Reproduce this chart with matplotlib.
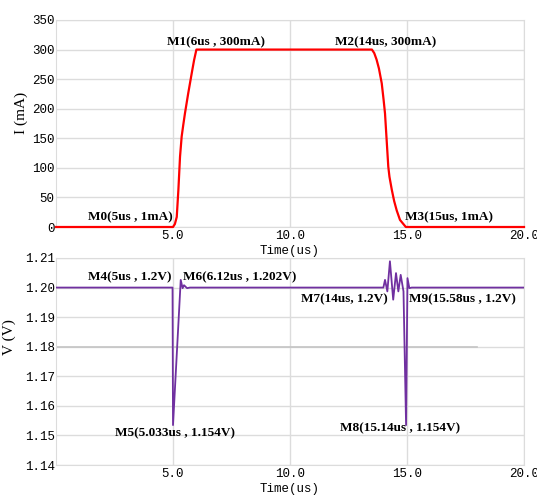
import matplotlib.pyplot as plt
import numpy as np

# corrente na carga (mA)
t_i = np.array([0, 5.0, 5.08, 5.16, 5.23, 5.30, 5.37, 5.44, 5.51, 5.65, 5.80, 5.9, 6.0,
                13.5, 13.6, 13.7, 13.8, 13.92, 14.0, 14.06, 14.13, 14.2, 14.25,
                14.35, 14.45, 14.56, 14.7, 14.95, 20])
i_ma = np.array([0, 0, 5, 17, 63, 119, 153, 173, 192, 226, 260, 282, 300,
                 300, 294, 283, 268, 243, 215, 192, 147, 102, 85,
                 63, 44, 28, 12, 0, 0])

# tensao de saida (V)
t_v = np.array([0, 4.98, 5.0, 5.33, 5.41, 5.47, 5.6, 5.72,
                13.99, 14.06, 14.16, 14.27, 14.41, 14.53, 14.63, 14.73, 14.85,
                14.96, 15.02, 15.10, 15.2, 20])
v_v = np.array([1.2, 1.2, 1.1535, 1.2026, 1.1998, 1.2008, 1.1998, 1.2,
                1.2, 1.2026, 1.1987, 1.2089, 1.1959, 1.2049, 1.1987, 1.2043, 1.1987,
                1.1535, 1.2032, 1.1998, 1.2, 1.2])

x_ticks = [5, 10, 15, 20]
i_ticks = [0, 50, 100, 150, 200, 250, 300, 350]
v_ticks = [1.14, 1.15, 1.16, 1.17, 1.18, 1.19, 1.20, 1.21]

labels_i = ["M0(5us , 1mA)", "M1(6us , 300mA)", "M2(14us, 300mA)", "M3(15us, 1mA)"]
labels_v = ["M4(5us , 1.2V)", "M6(6.12us , 1.202V)", "M5(5.033us , 1.154V)",
            "M7(14us, 1.2V)", "M9(15.58us , 1.2V)", "M8(15.14us , 1.154V)"]

grid_c = "#dcdcdc"
mono = "Liberation Mono"
serif = "Liberation Serif"

fig = plt.figure(figsize=(5.37, 4.95), dpi=100)
ax1 = fig.add_axes([0.1043, 0.5414, 0.8715, 0.4182])
ax2 = fig.add_axes([0.1043, 0.0606, 0.8715, 0.4182])

for ax in (ax1, ax2):
    ax.set_xlim(0, 20)
    ax.set_xticks(x_ticks)
    ax.set_xticklabels(["%.1f" % x for x in x_ticks], family=mono, fontsize=9)
    ax.grid(True, color=grid_c, lw=1)
    ax.set_axisbelow(True)
    ax.tick_params(length=0, pad=2)
    for s in ax.spines.values():
        s.set_color(grid_c)
    ax.set_xlabel("Time(us)", family=mono, fontsize=9, labelpad=2)

# grafico de cima
ax1.plot(t_i, i_ma, color="#ff0000", lw=1.6, clip_on=False, zorder=3)
ax1.set_ylim(0, 350)
ax1.set_yticks(i_ticks)
ax1.set_yticklabels([str(v) for v in i_ticks], family=mono, fontsize=9)
ax1.tick_params(axis="y", pad=1)
ax1.set_ylabel("I (mA)", family=serif, fontsize=11)
ax1.yaxis.set_label_coords(-0.06, 0.55)

pos_i = [(5.0, 7, "right", "bottom"), (4.75, 302, "left", "bottom"),
         (11.92, 302, "left", "bottom"), (14.92, 7, "left", "bottom")]
for txt, (x, y, ha, va) in zip(labels_i, pos_i):
    ax1.text(x, y, txt, family=serif, weight="bold", fontsize=9.5, ha=ha, va=va, zorder=4)

# grafico de baixo
ax2.axhline(1.18, xmin=0, xmax=18 / 20, color="#c4c4c4", lw=1.2, zorder=1)
ax2.plot(t_v, v_v, color="#7030a0", lw=1.3, zorder=3)
ax2.set_ylim(1.14, 1.21)
ax2.set_yticks(v_ticks)
ax2.set_yticklabels(["%.2f" % v for v in v_ticks], family=mono, fontsize=9)
ax2.tick_params(axis="y", pad=1)
ax2.set_ylabel("V (V)", family=serif, fontsize=11)
ax2.yaxis.set_label_coords(-0.085, 0.62)

pos_v = [(4.95, 1.2016, "right", "bottom"), (5.43, 1.2016, "left", "bottom"),
         (5.08, 1.1528, "center", "top"), (14.19, 1.1982, "right", "top"),
         (15.08, 1.1982, "left", "top"), (14.7, 1.1546, "center", "top")]
for txt, (x, y, ha, va) in zip(labels_v, pos_v):
    ax2.text(x, y, txt, family=serif, weight="bold", fontsize=9.5, ha=ha, va=va, zorder=4)

fig.savefig("out.png", dpi=100)
